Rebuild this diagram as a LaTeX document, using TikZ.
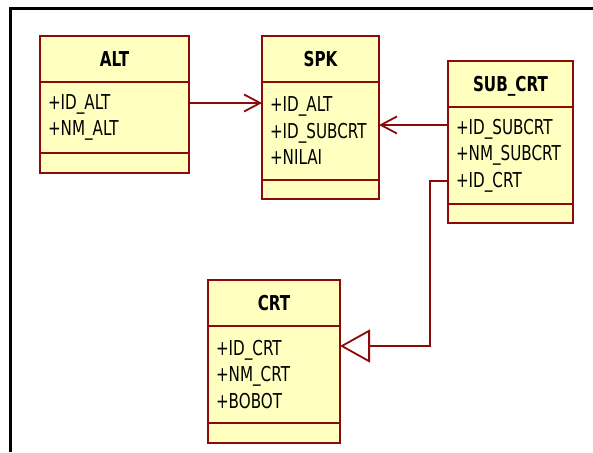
\documentclass[tikz,border=0pt]{standalone}
\usepackage{fontspec}
\usepackage{xcolor}
\usetikzlibrary{arrows.meta,positioning}
\newfontfamily\umlfont[FakeStretch=0.74]{DejaVu Sans}
\definecolor{umlred}{HTML}{8B0A0A}
\definecolor{umlfill}{HTML}{FFFFC0}

\begin{document}
\begin{tikzpicture}[x=1pt, y=-1pt, node distance=0pt,
    classhead/.style={draw=umlred, fill=umlfill, line width=1.8pt, outer sep=0pt, inner sep=0pt,
        minimum height=46pt, text height=15pt, text depth=0pt,
        font=\umlfont\fontsize{20.5}{26.5}\selectfont\bfseries},
    classattr/.style={draw=umlred, fill=umlfill, line width=1.8pt, outer sep=0pt,
        inner xsep=8pt, inner ysep=0pt, align=left,
        font=\umlfont\fontsize{20.5}{26.5}\selectfont},
    classops/.style={draw=umlred, fill=umlfill, line width=1.8pt, outer sep=0pt},
    assoc/.style={draw=umlred, line width=1.8pt, -{Straight Barb[length=16pt,width=17pt]}},
    inherit/.style={draw=umlred, line width=1.8pt, -{Triangle[open,length=30pt,width=33pt]}}]

    \useasboundingbox (0,0) rectangle (593,452);

    % frame
    \draw[line width=3pt] (593,9) -- (10,9) -- (10,452);

    % ALT
    \node[classhead, minimum width=149pt] (altH) at (114.5,59) {ALT};
    \node[classattr, text width=133pt, minimum height=71pt, below=of altH] (altA) {+ID\_ALT\\+NM\_ALT};
    \node[classops, minimum width=149pt, minimum height=20pt, below=of altA] (altO) {};

    % SPK
    \node[classhead, minimum width=117pt] (spkH) at (320.5,59) {SPK};
    \node[classattr, text width=101pt, minimum height=98pt, below=of spkH] (spkA) {+ID\_ALT\\+ID\_SUBCRT\\+NILAI};
    \node[classops, minimum width=117pt, minimum height=19pt, below=of spkA] (spkO) {};

    % SUB_CRT
    \node[classhead, minimum width=125pt] (subH) at (510.5,84) {SUB\_CRT};
    \node[classattr, text width=109pt, minimum height=97pt, below=of subH] (subA) {+ID\_SUBCRT\\+NM\_SUBCRT\\+ID\_CRT};
    \node[classops, minimum width=125pt, minimum height=19pt, below=of subA] (subO) {};

    % CRT
    \node[classhead, minimum width=132pt] (crtH) at (274,303) {CRT};
    \node[classattr, text width=116pt, minimum height=97pt, below=of crtH] (crtA) {+ID\_CRT\\+NM\_CRT\\+BOBOT};
    \node[classops, minimum width=132pt, minimum height=20pt, below=of crtA] (crtO) {};

    % relations
    \draw[assoc] ([yshift=14.5pt]altA.east) -- ([yshift=14.5pt]altA.east -| spkA.west);
    \draw[assoc] ([yshift=30.5pt]subA.west) -- ([yshift=30.5pt]subA.west -| spkA.east);
    \draw[inherit] ([yshift=-25.5pt]subA.west) -- ++(-18,0) |- ([yshift=28.5pt]crtA.east);

\end{tikzpicture}
\end{document}
